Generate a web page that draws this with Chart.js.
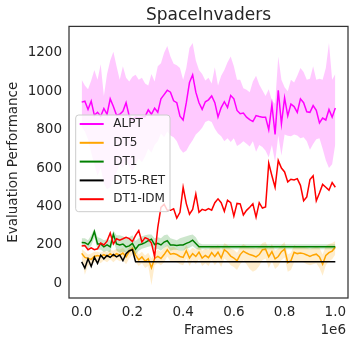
<!DOCTYPE html>
<html lang="en">
<head>
<meta charset="UTF-8" />
<title>SpaceInvaders</title>
<script src="https://cdn.jsdelivr.net/npm/chart.js"></script>
<style>
    body { margin: 0; background: #fff; }
    canvas { display: block; }
</style>
</head>
<body>
<canvas id="chart" width="354" height="345"></canvas>
<script>
// x positions (frames)
const frames = [0, 12500, 25000, 37500, 50000, 62500, 75000, 87500, 100000, 112500,
    125000, 137500, 150000, 162500, 175000, 187500, 200000, 212500, 225000, 237500,
    250000, 262500, 275000, 287500, 300000, 312500, 325000, 337500, 350000, 362500,
    375000, 387500, 400000, 412500, 425000, 437500, 450000, 462500, 475000, 487500,
    500000, 512500, 525000, 537500, 550000, 562500, 575000, 587500, 600000, 612500,
    625000, 637500, 650000, 662500, 675000, 687500, 700000, 712500, 725000, 737500,
    750000, 762500, 775000, 787500, 800000, 812500, 825000, 837500, 850000, 862500,
    875000, 887500, 900000, 912500, 925000, 937500, 950000, 962500, 975000, 987500,
    1000000];

const alpt = [943, 948, 905, 948, 874, 890, 870, 910, 880, 960, 920, 875, 880, 895, 940, 870, 850, 865, 862, 865,
    868, 903, 880, 912, 890, 960, 982, 1005, 995, 950, 940, 870, 850, 940, 1045, 1085, 995, 940, 905, 945,
    955, 975, 940, 866, 915, 945, 915, 978, 960, 900, 883, 886, 865, 852, 842, 873, 868, 865, 865, 800,
    930, 775, 1005, 830, 965, 872, 933, 920, 890, 960, 940, 893, 890, 925, 900, 835, 860, 850, 905, 865,
    912];
const alptUpper = [1060, 1030, 1010, 1055, 1110, 1060, 1140, 975, 1090, 1160, 1205, 1130, 1060, 1130, 1070, 1050, 1075, 1085, 1060, 1070,
    1040, 1030, 1090, 1050, 1130, 1145, 1200, 1235, 1180, 1143, 1135, 1120, 1060, 1120, 1225, 1250, 1160, 1110, 1090, 1056,
    1070, 1040, 1125, 1030, 1080, 1110, 1150, 1180, 1130, 1060, 1060, 1015, 1008, 995, 1050, 1080, 1035, 1005, 975, 1010,
    950, 935, 1180, 1060, 1020, 1000, 1060, 1045, 1080, 1120, 1100, 1060, 1065, 1130, 1060, 1065, 1060, 1120, 1250, 1060,
    1090];
const alptLower = [813, 790, 750, 680, 620, 560, 600, 520, 490, 500, 540, 580, 620, 600, 640, 610, 580, 620, 650, 630,
    660, 700, 680, 720, 740, 780, 760, 790, 770, 760, 740, 700, 680, 690, 720, 745, 775, 790, 810, 840,
    848, 840, 805, 780, 765, 740, 755, 735, 755, 715, 725, 740, 727, 712, 740, 685, 720, 710, 690, 655,
    720, 630, 770, 665, 775, 768, 765, 775, 770, 755, 760, 740, 695, 725, 750, 755, 700, 640, 600, 620,
    725];

const dt5 = [156, 135, 130, 125, 140, 145, 140, 150, 140, 154, 142, 155, 147, 158, 138, 165, 182, 147, 122, 138,
    115, 128, 80, 130, 140, 130, 150, 175, 152, 155, 150, 140, 135, 170, 132, 155, 140, 163, 132, 145,
    134, 160, 140, 162, 132, 175, 162, 142, 132, 118, 150, 168, 158, 150, 145, 138, 150, 175, 178, 138,
    165, 128, 140, 165, 178, 108, 118, 162, 155, 158, 155, 148, 140, 148, 152, 138, 100, 145, 160, 168,
    188];
const dt5Upper = [180, 165, 150, 155, 165, 165, 160, 170, 165, 175, 170, 180, 175, 185, 165, 190, 205, 175, 150, 165,
    145, 160, 130, 160, 175, 165, 185, 200, 185, 190, 180, 170, 170, 200, 170, 185, 175, 195, 170, 180,
    175, 195, 185, 200, 170, 210, 200, 180, 175, 160, 190, 205, 195, 185, 185, 180, 190, 210, 215, 180,
    205, 170, 180, 200, 215, 150, 160, 200, 190, 195, 190, 185, 180, 185, 190, 185, 150, 195, 205, 210,
    220];
const dt5Lower = [130, 45, 95, 90, 110, 115, 105, 120, 110, 125, 110, 125, 115, 120, 100, 130, 150, 110, 90, 105,
    80, 90, -10, 95, 105, 95, 110, 140, 115, 115, 110, 100, 95, 130, 90, 120, 100, 125, 90, 105,
    90, 120, 95, 115, 85, 130, 115, 95, 85, 70, 100, 120, 100, 75, 60, 70, 90, 120, 130, 80,
    115, 75, 90, 120, 135, 60, 70, 110, 110, 115, 110, 100, 95, 100, 105, 80, 40, 95, 115, 125,
    150];

const dt1 = [213, 212, 202, 225, 270, 205, 205, 190, 200, 190, 255, 205, 200, 205, 190, 195, 208, 178, 200, 205,
    212, 222, 230, 202, 208, 200, 215, 222, 200, 200, 197, 200, 200, 208, 215, 225, 208, 190, 190, 190,
    190, 190, 190, 190, 190, 190, 190, 190, 190, 190, 190, 190, 190, 190, 190, 190, 190, 190, 190, 190,
    190, 190, 190, 190, 190, 190, 190, 190, 190, 190, 190, 190, 190, 190, 190, 190, 190, 190, 190, 190,
    190];
const dt1Upper = [235, 235, 225, 250, 285, 240, 235, 225, 230, 225, 275, 250, 250, 245, 235, 240, 250, 220, 235, 245,
    250, 255, 255, 235, 240, 235, 250, 255, 235, 230, 225, 235, 240, 245, 250, 255, 240, 210, 203, 203,
    203, 203, 203, 203, 203, 203, 203, 203, 203, 203, 203, 203, 203, 203, 203, 203, 203, 203, 203, 203,
    203, 203, 203, 203, 203, 203, 203, 203, 203, 203, 203, 203, 203, 203, 203, 203, 203, 203, 203, 203,
    203];
const dt1Lower = [195, 190, 180, 195, 240, 175, 175, 165, 170, 160, 225, 170, 160, 165, 160, 165, 170, 150, 170, 180,
    185, 190, 195, 175, 180, 170, 185, 195, 170, 175, 175, 170, 170, 180, 185, 195, 180, 175, 178, 178,
    178, 178, 178, 178, 178, 178, 178, 178, 178, 178, 178, 178, 178, 178, 178, 178, 178, 178, 178, 178,
    178, 178, 178, 178, 178, 178, 178, 178, 178, 178, 178, 178, 178, 178, 178, 178, 178, 178, 178, 178,
    178];

const dt5Ret = [112, 80, 128, 88, 136, 104, 147, 128, 145, 135, 150, 138, 147, 118, 155, 170, 175, 112, 112, 112,
    112, 112, 112, 112, 112, 112, 112, 112, 112, 112, 112, 112, 112, 112, 112, 112, 112, 112, 112, 112,
    112, 112, 112, 112, 112, 112, 112, 112, 112, 112, 112, 112, 112, 112, 112, 112, 112, 112, 112, 112,
    112, 112, 112, 112, 112, 112, 112, 112, 112, 112, 112, 112, 112, 112, 112, 112, 112, 112, 112, 112,
    112];

const dt1Idm = [195, 197, 175, 185, 175, 180, 210, 200, 220, 262, 205, 232, 225, 232, 240, 233, 218, 250, 275, 215,
    238, 230, 210, 140, 290, 395, 412, 380, 380, 388, 340, 370, 500, 415, 360, 385, 465, 370, 385, 380,
    389, 381, 420, 440, 420, 375, 433, 420, 350, 416, 414, 356, 380, 396, 414, 345, 420, 392, 398, 625,
    560, 500, 640, 600, 580, 528, 542, 538, 545, 510, 430, 450, 540, 560, 430, 470, 515, 500, 485, 525,
    500];

const xTicks = [0, 200000, 400000, 600000, 800000, 1000000];
const yTicks = [0, 200, 400, 600, 800, 1000, 1200];
const legendNames = ['ALPT', 'DT5', 'DT1', 'DT5-RET', 'DT1-IDM'];
const legendColors = ['#ff00ff', '#ffa500', '#008000', '#000000', '#ff0000'];

const textColor = '#262626';
Chart.defaults.font.family = "'DejaVu Sans', sans-serif";

function pts(vals) {
    return vals.map((v, i) => ({ x: frames[i], y: v }));
}

function line(label, vals, color, order) {
    return { label: label, data: pts(vals), borderColor: color, borderWidth: 1.5,
        pointRadius: 0, fill: false, tension: 0, order: order };
}

function band(vals, color, fill, order) {
    return { data: pts(vals), borderColor: 'transparent', borderWidth: 0,
        backgroundColor: color, pointRadius: 0, fill: fill, tension: 0, order: order };
}

// frame round the plot + legend inside + offset text
const decorations = {
    id: 'decorations',
    afterDatasetsDraw(chart) {
        const { ctx, chartArea: a } = chart;
        ctx.save();
        ctx.strokeStyle = '#333333';
        ctx.lineWidth = 1.25;
        ctx.strokeRect(a.left, a.top, a.right - a.left, a.bottom - a.top);
        ctx.restore();
    },
    afterDraw(chart) {
        const { ctx, chartArea: a } = chart;
        ctx.save();
        const bx = a.left + 6.7, by = 115, bw = 94.3, bh = 96.7;
        ctx.beginPath();
        ctx.roundRect(bx, by, bw, bh, 3);
        ctx.fillStyle = 'rgba(255,255,255,0.8)';
        ctx.fill();
        ctx.strokeStyle = '#cccccc';
        ctx.lineWidth = 1;
        ctx.stroke();

        ctx.font = "12px 'DejaVu Sans'";
        ctx.textBaseline = 'middle';
        ctx.textAlign = 'left';
        legendNames.forEach((name, i) => {
            const y = 124 + i * 18.8;
            ctx.strokeStyle = legendColors[i];
            ctx.lineWidth = 2;
            ctx.beginPath();
            ctx.moveTo(bx + 4, y);
            ctx.lineTo(bx + 28, y);
            ctx.stroke();
            ctx.fillStyle = textColor;
            ctx.fillText(name, bx + 37.6, y);
        });

        ctx.font = "13.5px 'DejaVu Sans'";
        ctx.textAlign = 'right';
        ctx.fillText('1e6', a.right - 2, 330);
        ctx.restore();
    }
};

new Chart(document.getElementById('chart').getContext('2d'), {
    type: 'line',
    data: {
        datasets: [
            line('DT1-IDM', dt1Idm, '#ff0000', 1),
            line('DT5-RET', dt5Ret, '#000000', 2),
            line('DT1', dt1, '#008000', 3),
            band(dt1Upper, 'rgba(0,128,0,0.2)', false, 4),
            band(dt1Lower, 'rgba(0,128,0,0.2)', '-1', 4),
            line('DT5', dt5, '#ffa500', 5),
            band(dt5Upper, 'rgba(255,165,0,0.2)', false, 6),
            band(dt5Lower, 'rgba(255,165,0,0.2)', '-1', 6),
            line('ALPT', alpt, '#ff00ff', 7),
            band(alptUpper, 'rgba(255,0,255,0.21)', false, 8),
            band(alptLower, 'rgba(255,0,255,0.21)', '-1', 8)
        ]
    },
    options: {
        responsive: false,
        animation: false,
        layout: { padding: { left: 0, right: 6, top: 0, bottom: 0 } },
        plugins: {
            legend: { display: false },
            tooltip: { enabled: false },
            title: {
                display: true,
                text: 'SpaceInvaders',
                fullSize: false,
                color: textColor,
                font: { size: 17, weight: 'normal' },
                padding: { top: 5, bottom: 1 }
            }
        },
        scales: {
            x: {
                type: 'linear',
                min: -50000,
                max: 1050000,
                afterBuildTicks: s => { s.ticks = xTicks.map(v => ({ value: v })); },
                afterFit: s => { s.height = 47; },
                grid: { display: false, drawTicks: false },
                border: { display: false },
                ticks: {
                    autoSkip: false,
                    maxRotation: 0,
                    padding: 6,
                    color: textColor,
                    font: { size: 13.5 },
                    callback: v => (v / 1e6).toFixed(1)
                },
                title: {
                    display: true,
                    text: 'Frames',
                    color: textColor,
                    font: { size: 13.5 },
                    padding: { top: 0, bottom: 6 }
                }
            },
            y: {
                min: -76,
                max: 1337,
                afterBuildTicks: s => { s.ticks = yTicks.map(v => ({ value: v })); },
                afterFit: s => { s.width = 69; },
                grid: { display: false, drawTicks: false },
                border: { display: false },
                ticks: {
                    autoSkip: false,
                    padding: 7,
                    color: textColor,
                    font: { size: 13.5 },
                    callback: v => String(v)
                },
                title: {
                    display: true,
                    text: 'Evaluation Performance',
                    color: textColor,
                    font: { size: 13.5 },
                    padding: { top: 5, bottom: 0 }
                }
            }
        }
    },
    plugins: [decorations]
});
</script>
</body>
</html>
